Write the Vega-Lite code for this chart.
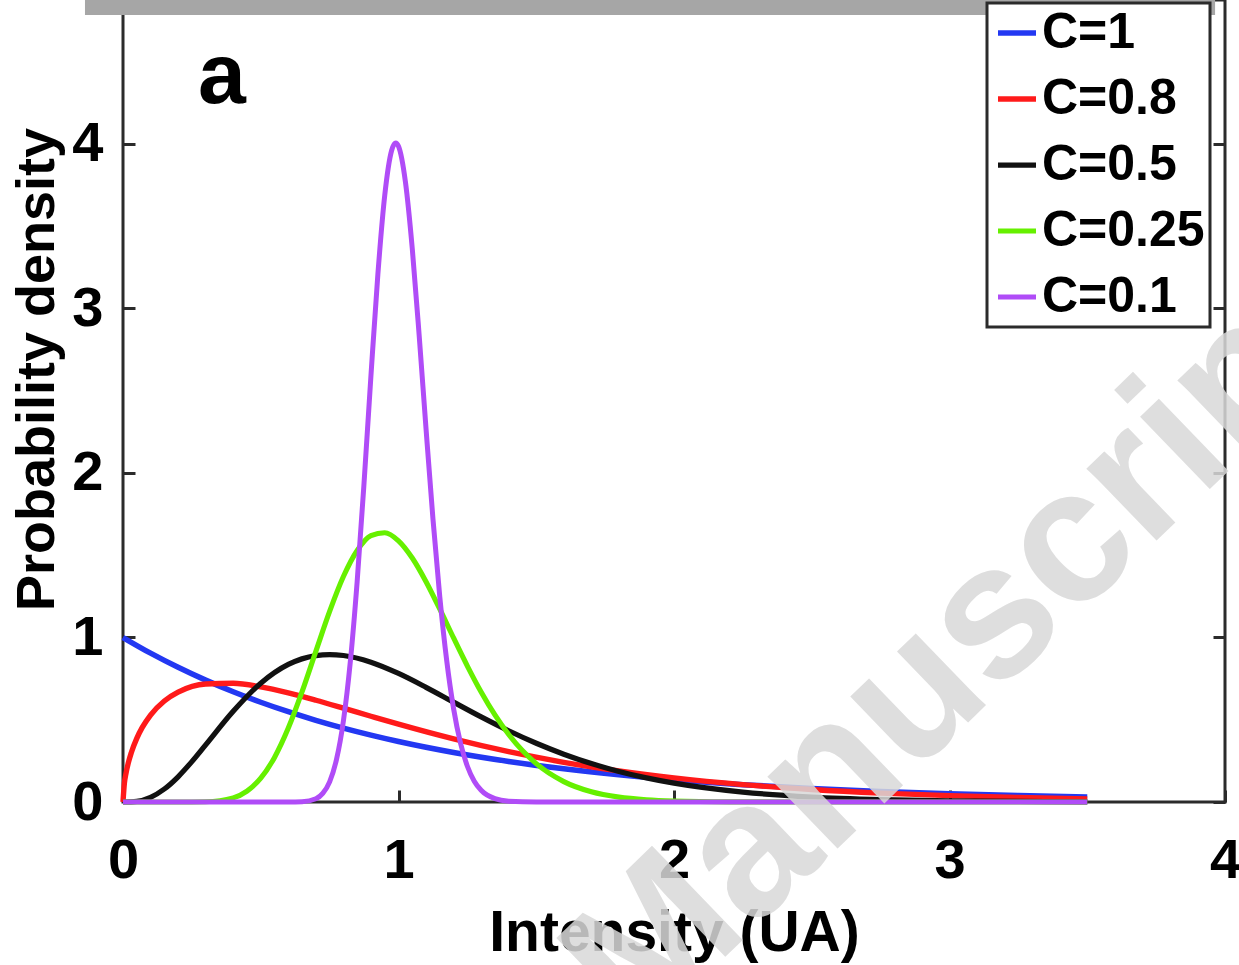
{
  "$schema": "https://vega.github.io/schema/vega-lite/v6.json",
  "width": 1102,
  "height": 802,
  "autosize": {"type": "none"},
  "padding": {"left": 123, "top": 0, "right": 14, "bottom": 163},
  "background": "white",
  "config": {
    "view": {"stroke": "#2b2b2b", "strokeWidth": 3},
    "font": "Liberation Sans"
  },
  "datasets": {
    "curves": [
      {"x": 0, "y": 1, "c": "C=1"},
      {"x": 0.1, "y": 0.9048, "c": "C=1"},
      {"x": 0.2, "y": 0.8187, "c": "C=1"},
      {"x": 0.3, "y": 0.7408, "c": "C=1"},
      {"x": 0.4, "y": 0.6703, "c": "C=1"},
      {"x": 0.5, "y": 0.6065, "c": "C=1"},
      {"x": 0.6, "y": 0.5488, "c": "C=1"},
      {"x": 0.7, "y": 0.4966, "c": "C=1"},
      {"x": 0.8, "y": 0.4493, "c": "C=1"},
      {"x": 0.9, "y": 0.4066, "c": "C=1"},
      {"x": 1.0, "y": 0.3679, "c": "C=1"},
      {"x": 1.2, "y": 0.3012, "c": "C=1"},
      {"x": 1.4, "y": 0.2466, "c": "C=1"},
      {"x": 1.6, "y": 0.2019, "c": "C=1"},
      {"x": 1.8, "y": 0.1653, "c": "C=1"},
      {"x": 2.0, "y": 0.1353, "c": "C=1"},
      {"x": 2.25, "y": 0.1054, "c": "C=1"},
      {"x": 2.5, "y": 0.0821, "c": "C=1"},
      {"x": 2.75, "y": 0.0639, "c": "C=1"},
      {"x": 3.0, "y": 0.0498, "c": "C=1"},
      {"x": 3.25, "y": 0.0388, "c": "C=1"},
      {"x": 3.5, "y": 0.0302, "c": "C=1"},

      {"x": 0, "y": 0, "c": "C=0.8"},
      {"x": 0.005, "y": 0.1137, "c": "C=0.8"},
      {"x": 0.01, "y": 0.1666, "c": "C=0.8"},
      {"x": 0.02, "y": 0.2423, "c": "C=0.8"},
      {"x": 0.03, "y": 0.2996, "c": "C=0.8"},
      {"x": 0.05, "y": 0.3871, "c": "C=0.8"},
      {"x": 0.07, "y": 0.4533, "c": "C=0.8"},
      {"x": 0.1, "y": 0.5287, "c": "C=0.8"},
      {"x": 0.15, "y": 0.6142, "c": "C=0.8"},
      {"x": 0.2, "y": 0.6678, "c": "C=0.8"},
      {"x": 0.3, "y": 0.7175, "c": "C=0.8"},
      {"x": 0.4, "y": 0.7215, "c": "C=0.8"},
      {"x": 0.5, "y": 0.6997, "c": "C=0.8"},
      {"x": 0.6, "y": 0.6631, "c": "C=0.8"},
      {"x": 0.7, "y": 0.6186, "c": "C=0.8"},
      {"x": 0.8, "y": 0.5704, "c": "C=0.8"},
      {"x": 0.9, "y": 0.5213, "c": "C=0.8"},
      {"x": 1.0, "y": 0.4731, "c": "C=0.8"},
      {"x": 1.2, "y": 0.3835, "c": "C=0.8"},
      {"x": 1.4, "y": 0.3060, "c": "C=0.8"},
      {"x": 1.6, "y": 0.2413, "c": "C=0.8"},
      {"x": 1.8, "y": 0.1887, "c": "C=0.8"},
      {"x": 2.0, "y": 0.1465, "c": "C=0.8"},
      {"x": 2.25, "y": 0.1059, "c": "C=0.8"},
      {"x": 2.5, "y": 0.0760, "c": "C=0.8"},
      {"x": 2.75, "y": 0.0543, "c": "C=0.8"},
      {"x": 3.0, "y": 0.0386, "c": "C=0.8"},
      {"x": 3.25, "y": 0.0273, "c": "C=0.8"},
      {"x": 3.5, "y": 0.0193, "c": "C=0.8"},

      {"x": 0, "y": 0, "c": "C=0.5"},
      {"x": 0.05, "y": 0.0044, "c": "C=0.5"},
      {"x": 0.1, "y": 0.0286, "c": "C=0.5"},
      {"x": 0.15, "y": 0.0790, "c": "C=0.5"},
      {"x": 0.2, "y": 0.1534, "c": "C=0.5"},
      {"x": 0.25, "y": 0.2453, "c": "C=0.5"},
      {"x": 0.3, "y": 0.3470, "c": "C=0.5"},
      {"x": 0.4, "y": 0.5513, "c": "C=0.5"},
      {"x": 0.5, "y": 0.7218, "c": "C=0.5"},
      {"x": 0.6, "y": 0.8361, "c": "C=0.5"},
      {"x": 0.7, "y": 0.8899, "c": "C=0.5"},
      {"x": 0.75, "y": 0.8962, "c": "C=0.5"},
      {"x": 0.8, "y": 0.8905, "c": "C=0.5"},
      {"x": 0.9, "y": 0.8499, "c": "C=0.5"},
      {"x": 1.0, "y": 0.7815, "c": "C=0.5"},
      {"x": 1.1, "y": 0.6972, "c": "C=0.5"},
      {"x": 1.2, "y": 0.6068, "c": "C=0.5"},
      {"x": 1.3, "y": 0.5171, "c": "C=0.5"},
      {"x": 1.4, "y": 0.4329, "c": "C=0.5"},
      {"x": 1.5, "y": 0.3569, "c": "C=0.5"},
      {"x": 1.6, "y": 0.2904, "c": "C=0.5"},
      {"x": 1.7, "y": 0.2335, "c": "C=0.5"},
      {"x": 1.8, "y": 0.1858, "c": "C=0.5"},
      {"x": 1.9, "y": 0.1465, "c": "C=0.5"},
      {"x": 2.0, "y": 0.1145, "c": "C=0.5"},
      {"x": 2.25, "y": 0.0600, "c": "C=0.5"},
      {"x": 2.5, "y": 0.0303, "c": "C=0.5"},
      {"x": 2.75, "y": 0.0148, "c": "C=0.5"},
      {"x": 3.0, "y": 0.0071, "c": "C=0.5"},
      {"x": 3.25, "y": 0.0033, "c": "C=0.5"},
      {"x": 3.5, "y": 0.0015, "c": "C=0.5"},

      {"x": 0, "y": 0, "c": "C=0.25"},
      {"x": 0.2, "y": 0, "c": "C=0.25"},
      {"x": 0.3, "y": 0.0017, "c": "C=0.25"},
      {"x": 0.4, "y": 0.0252, "c": "C=0.25"},
      {"x": 0.45, "y": 0.0662, "c": "C=0.25"},
      {"x": 0.5, "y": 0.1444, "c": "C=0.25"},
      {"x": 0.55, "y": 0.2711, "c": "C=0.25"},
      {"x": 0.6, "y": 0.4492, "c": "C=0.25"},
      {"x": 0.65, "y": 0.6706, "c": "C=0.25"},
      {"x": 0.7, "y": 0.9158, "c": "C=0.25"},
      {"x": 0.75, "y": 1.1583, "c": "C=0.25"},
      {"x": 0.8, "y": 1.3703, "c": "C=0.25"},
      {"x": 0.85, "y": 1.5287, "c": "C=0.25"},
      {"x": 0.9, "y": 1.6189, "c": "C=0.25"},
      {"x": 0.95, "y": 1.6368, "c": "C=0.25"},
      {"x": 1.0, "y": 1.5875, "c": "C=0.25"},
      {"x": 1.05, "y": 1.4829, "c": "C=0.25"},
      {"x": 1.1, "y": 1.3388, "c": "C=0.25"},
      {"x": 1.15, "y": 1.1718, "c": "C=0.25"},
      {"x": 1.2, "y": 0.9970, "c": "C=0.25"},
      {"x": 1.25, "y": 0.8264, "c": "C=0.25"},
      {"x": 1.3, "y": 0.6687, "c": "C=0.25"},
      {"x": 1.35, "y": 0.5293, "c": "C=0.25"},
      {"x": 1.4, "y": 0.4103, "c": "C=0.25"},
      {"x": 1.5, "y": 0.2332, "c": "C=0.25"},
      {"x": 1.6, "y": 0.1240, "c": "C=0.25"},
      {"x": 1.7, "y": 0.0621, "c": "C=0.25"},
      {"x": 1.8, "y": 0.0296, "c": "C=0.25"},
      {"x": 1.9, "y": 0.0134, "c": "C=0.25"},
      {"x": 2.0, "y": 0.0059, "c": "C=0.25"},
      {"x": 2.2, "y": 0.0010, "c": "C=0.25"},
      {"x": 2.5, "y": 0, "c": "C=0.25"},
      {"x": 3.5, "y": 0, "c": "C=0.25"},

      {"x": 0, "y": 0, "c": "C=0.1"},
      {"x": 0.5, "y": 0, "c": "C=0.1"},
      {"x": 0.6, "y": 0.0001, "c": "C=0.1"},
      {"x": 0.65, "y": 0.0019, "c": "C=0.1"},
      {"x": 0.7, "y": 0.0197, "c": "C=0.1"},
      {"x": 0.725, "y": 0.0521, "c": "C=0.1"},
      {"x": 0.75, "y": 0.1227, "c": "C=0.1"},
      {"x": 0.775, "y": 0.2589, "c": "C=0.1"},
      {"x": 0.8, "y": 0.4924, "c": "C=0.1"},
      {"x": 0.825, "y": 0.8504, "c": "C=0.1"},
      {"x": 0.85, "y": 1.3411, "c": "C=0.1"},
      {"x": 0.875, "y": 1.9411, "c": "C=0.1"},
      {"x": 0.9, "y": 2.5913, "c": "C=0.1"},
      {"x": 0.925, "y": 3.2047, "c": "C=0.1"},
      {"x": 0.95, "y": 3.6867, "c": "C=0.1"},
      {"x": 0.975, "y": 3.9603, "c": "C=0.1"},
      {"x": 0.99, "y": 4.006, "c": "C=0.1"},
      {"x": 1.0, "y": 3.9861, "c": "C=0.1"},
      {"x": 1.025, "y": 3.7712, "c": "C=0.1"},
      {"x": 1.05, "y": 3.3638, "c": "C=0.1"},
      {"x": 1.075, "y": 2.8365, "c": "C=0.1"},
      {"x": 1.1, "y": 2.2671, "c": "C=0.1"},
      {"x": 1.125, "y": 1.7217, "c": "C=0.1"},
      {"x": 1.15, "y": 1.2451, "c": "C=0.1"},
      {"x": 1.175, "y": 0.8593, "c": "C=0.1"},
      {"x": 1.2, "y": 0.5670, "c": "C=0.1"},
      {"x": 1.225, "y": 0.3584, "c": "C=0.1"},
      {"x": 1.25, "y": 0.2174, "c": "C=0.1"},
      {"x": 1.275, "y": 0.1267, "c": "C=0.1"},
      {"x": 1.3, "y": 0.0711, "c": "C=0.1"},
      {"x": 1.35, "y": 0.0201, "c": "C=0.1"},
      {"x": 1.4, "y": 0.0050, "c": "C=0.1"},
      {"x": 1.5, "y": 0.0002, "c": "C=0.1"},
      {"x": 2.0, "y": 0, "c": "C=0.1"},
      {"x": 3.5, "y": 0, "c": "C=0.1"}
    ]
  },
  "resolve": {"axis": {"y": "independent"}},
  "layer": [
    {
      "data": {"name": "curves"},
      "mark": {"type": "line", "interpolate": "monotone"},
      "encoding": {
        "x": {
          "field": "x", "type": "quantitative",
          "scale": {"domain": [0, 4], "nice": false, "zero": false},
          "axis": {
            "values": [0, 1, 2, 3, 4], "format": "d",
            "title": "Intensity (UA)",
            "titleFont": "Liberation Sans", "titleFontSize": 57, "titleFontWeight": "bold", "titleColor": "black",
            "titleX": 551, "titleY": 148, "titleBaseline": "alphabetic", "titleAlign": "center",
            "labelFont": "Liberation Sans", "labelFontSize": 56, "labelFontWeight": "bold", "labelColor": "black",
            "labelBaseline": "alphabetic", "labelPadding": 87, "labelFlush": false, "labelOverlap": false,
            "tickSize": -12, "tickWidth": 3, "tickColor": "#2b2b2b",
            "domain": false, "grid": false
          }
        },
        "y": {
          "field": "y", "type": "quantitative",
          "scale": {"domain": [0, 4.875], "nice": false, "zero": false},
          "axis": {
            "orient": "left",
            "values": [0, 1, 2, 3, 4], "format": "d",
            "title": "Probability density",
            "titleFont": "Liberation Sans", "titleFontSize": 54, "titleFontWeight": "bold", "titleColor": "black",
            "titleX": -70, "titleY": 369, "titleAngle": 270, "titleBaseline": "alphabetic", "titleAlign": "center",
            "labelFont": "Liberation Sans", "labelFontSize": 56, "labelFontWeight": "bold", "labelColor": "black",
            "labelPadding": 32, "labelFlush": false, "labelOverlap": false,
            "tickSize": -12, "tickWidth": 3, "tickColor": "#2b2b2b",
            "domain": false, "grid": false
          }
        },
        "strokeWidth": {
          "field": "c", "type": "nominal",
          "scale": {
            "domain": ["C=1", "C=0.8", "C=0.5", "C=0.25", "C=0.1"],
            "range": [5.5, 5, 4, 5, 6]
          },
          "legend": null
        },
        "color": {
          "field": "c", "type": "nominal",
          "scale": {
            "domain": ["C=1", "C=0.8", "C=0.5", "C=0.25", "C=0.1"],
            "range": ["#2338f2", "#ff1a1a", "#111111", "#66f000", "#b04cf7"]
          },
          "legend": {
            "orient": "none", "legendX": 864, "legendY": 3,
            "title": null,
            "symbolType": "stroke", "symbolSize": 1444, "symbolStrokeWidth": 4,
            "labelFont": "Liberation Sans", "labelFontSize": 50, "labelFontWeight": "bold", "labelColor": "black",
            "labelOffset": 0, "labelLimit": 400,
            "rowPadding": 16, "padding": 5,
            "strokeColor": "#2b2b2b", "fillColor": "white",
            "encode": {"legend": {"update": {"strokeWidth": {"value": 3}}}}
          }
        }
      }
    },
    {
      "data": {"values": [{"label": "Manuscript"}]},
      "mark": {"type": "text", "font": "Liberation Sans", "fontWeight": "bold", "fontSize": 190, "angle": -44, "align": "center", "baseline": "middle", "color": "#d9d9d9", "opacity": 0.85},
      "encoding": {
        "text": {"field": "label"},
        "x": {"datum": 3.049, "type": "quantitative"},
        "y": {"datum": 0.936, "type": "quantitative", "axis": null}
      }
    },
    {
      "data": {"values": [{"label": "a"}]},
      "mark": {"type": "text", "font": "Liberation Sans", "fontWeight": "bold", "fontSize": 86, "align": "center", "baseline": "alphabetic", "color": "black"},
      "encoding": {
        "text": {"field": "label"},
        "x": {"datum": 0.359, "type": "quantitative"},
        "y": {"datum": 4.249, "type": "quantitative", "axis": null}
      }
    },
    {
      "data": {"values": [{"band": "top"}]},
      "mark": {"type": "rect", "color": "#a6a6a6"},
      "encoding": {
        "x": {"datum": -0.138, "type": "quantitative"},
        "x2": {"datum": 3.964},
        "y": {
          "datum": 4.875, "type": "quantitative",
          "scale": {"domain": [0, 4.875], "nice": false, "zero": false},
          "axis": {
            "orient": "right", "values": [0, 1, 2, 3, 4], "labels": false, "title": null,
            "tickSize": -12, "tickWidth": 3, "tickColor": "#2b2b2b", "domain": false, "grid": false
          }
        },
        "y2": {"datum": 4.784}
      }
    }
  ]
}
